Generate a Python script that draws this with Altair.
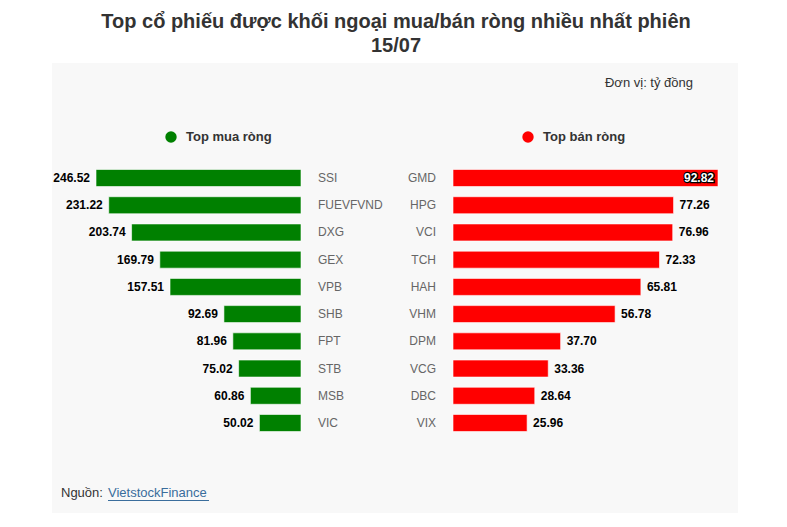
import altair as alt
import pandas as pd

# ---- data ----
buy_tickers = ["SSI", "FUEVFVND", "DXG", "GEX", "VPB", "SHB", "FPT", "STB", "MSB", "VIC"]
buy_values = [246.52, 231.22, 203.74, 169.79, 157.51, 92.69, 81.96, 75.02, 60.86, 50.02]
sell_tickers = ["GMD", "HPG", "VCI", "TCH", "HAH", "VHM", "DPM", "VCG", "DBC", "VIX"]
sell_values = [92.82, 77.26, 76.96, 72.33, 65.81, 56.78, 37.70, 33.36, 28.64, 25.96]
ranks = list(range(1, 11))

title_lines = ["Top cổ phiếu được khối ngoại mua/bán ròng nhiều nhất phiên", "15/07"]
unit_text = "Đơn vị: tỷ đồng"
legend_labels = ["Top mua ròng", "Top bán ròng"]
source_prefix = "Nguồn:"
source_name = "VietstockFinance"

FONT = "Liberation Sans"
GREEN = "#008000"
RED = "#ff0000"

df = pd.DataFrame({
    "rank": ranks,
    "buy_ticker": buy_tickers,
    "buy": buy_values,
    "sell_ticker": sell_tickers,
    "sell": sell_values,
})
df["inside"] = df["sell"] >= max(sell_values)

one = pd.DataFrame({"a": [0]})

y_enc = alt.Y("rank:O", axis=None,
              scale=alt.Scale(range=[164.4, 436.6], paddingInner=0.375, paddingOuter=0.1875))
x_left = alt.Scale(domain=[0, max(buy_values)], range=[301, 96], nice=False, zero=True)
x_right = alt.Scale(domain=[0, max(sell_values)], range=[453, 718], nice=False, zero=True)

base = alt.Chart(df)

panel = alt.Chart(one).mark_rect(color="#f8f8f8").encode(
    x=alt.value(52), x2=alt.value(738), y=alt.value(63), y2=alt.value(513))

left_bars = base.mark_bar(color=GREEN, stroke="#ffffff", strokeWidth=1, strokeOpacity=0.6).encode(
    x=alt.X("buy:Q", scale=x_left, axis=None), y=y_enc)
left_vals = base.mark_text(align="right", baseline="middle", dx=-6, font=FONT, fontSize=12,
                           fontWeight="bold", color="#000000").encode(
    x=alt.X("buy:Q", scale=x_left, axis=None), y=y_enc, text=alt.Text("buy:Q", format=".2f"))
left_cats = base.mark_text(align="left", baseline="middle", font=FONT, fontSize=12,
                           color="#666666").encode(
    x=alt.value(318), y=y_enc, text="buy_ticker:N")

right_bars = base.mark_bar(color=RED, stroke="#ffffff", strokeWidth=1, strokeOpacity=0.6).encode(
    x=alt.X("sell:Q", scale=x_right, axis=None), y=y_enc)
right_vals = base.transform_filter("!datum.inside").mark_text(
    align="left", baseline="middle", dx=6, font=FONT, fontSize=12,
    fontWeight="bold", color="#000000").encode(
    x=alt.X("sell:Q", scale=x_right, axis=None), y=y_enc, text=alt.Text("sell:Q", format=".2f"))
right_in_outline = base.transform_filter("datum.inside").mark_text(
    align="right", baseline="middle", dx=-4, font=FONT, fontSize=12,
    fontWeight="bold", color="#000000", stroke="#000000", strokeWidth=2.5).encode(
    x=alt.X("sell:Q", scale=x_right, axis=None), y=y_enc, text=alt.Text("sell:Q", format=".2f"))
right_in = base.transform_filter("datum.inside").mark_text(
    align="right", baseline="middle", dx=-4, font=FONT, fontSize=12,
    fontWeight="bold", color="#ffffff").encode(
    x=alt.X("sell:Q", scale=x_right, axis=None), y=y_enc, text=alt.Text("sell:Q", format=".2f"))
right_cats = base.mark_text(align="right", baseline="middle", font=FONT, fontSize=12,
                            color="#666666").encode(
    x=alt.value(436), y=y_enc, text="sell_ticker:N")

title1 = alt.Chart(one).mark_text(align="center", baseline="middle", font=FONT, fontSize=20,
                                  fontWeight="bold", color="#333333", text=title_lines[0]).encode(
    x=alt.value(396), y=alt.value(22))
title2 = alt.Chart(one).mark_text(align="center", baseline="middle", font=FONT, fontSize=20,
                                  fontWeight="bold", color="#333333", text=title_lines[1]).encode(
    x=alt.value(396), y=alt.value(46))
unit = alt.Chart(one).mark_text(align="right", baseline="middle", font=FONT, fontSize=13,
                                color="#333333", text=unit_text).encode(
    x=alt.value(693), y=alt.value(83))

dot_g = alt.Chart(one).mark_circle(color=GREEN, opacity=1, size=130).encode(
    x=alt.value(171), y=alt.value(137))
dot_r = alt.Chart(one).mark_circle(color=RED, opacity=1, size=130).encode(
    x=alt.value(528), y=alt.value(137))
leg_g = alt.Chart(one).mark_text(align="left", baseline="middle", font=FONT, fontSize=13,
                                 fontWeight="bold", color="#333333", text=legend_labels[0]).encode(
    x=alt.value(186), y=alt.value(137))
leg_r = alt.Chart(one).mark_text(align="left", baseline="middle", font=FONT, fontSize=13,
                                 fontWeight="bold", color="#333333", text=legend_labels[1]).encode(
    x=alt.value(543), y=alt.value(137))

src1 = alt.Chart(one).mark_text(align="left", baseline="middle", font=FONT, fontSize=13,
                                color="#333333", text=source_prefix).encode(
    x=alt.value(61), y=alt.value(493))
src2 = alt.Chart(one).mark_text(align="left", baseline="middle", font=FONT, fontSize=13,
                                color="#3a6d9c", text=source_name).encode(
    x=alt.value(108), y=alt.value(493))
src_line = alt.Chart(one).mark_rule(color="#3a6d9c", strokeWidth=1).encode(
    x=alt.value(108), x2=alt.value(209), y=alt.value(500.5))

chart = alt.layer(
    panel,
    left_bars, left_vals, left_cats,
    right_bars, right_vals, right_in_outline, right_in, right_cats,
    title1, title2, unit, dot_g, dot_r, leg_g, leg_r, src1, src2, src_line,
).resolve_scale(x="independent").properties(
    width=787, height=527, autosize="none", padding=0, background="#ffffff"
).configure_view(stroke=None)

chart.save("out.html", embed_options={"renderer": "svg", "actions": False})
